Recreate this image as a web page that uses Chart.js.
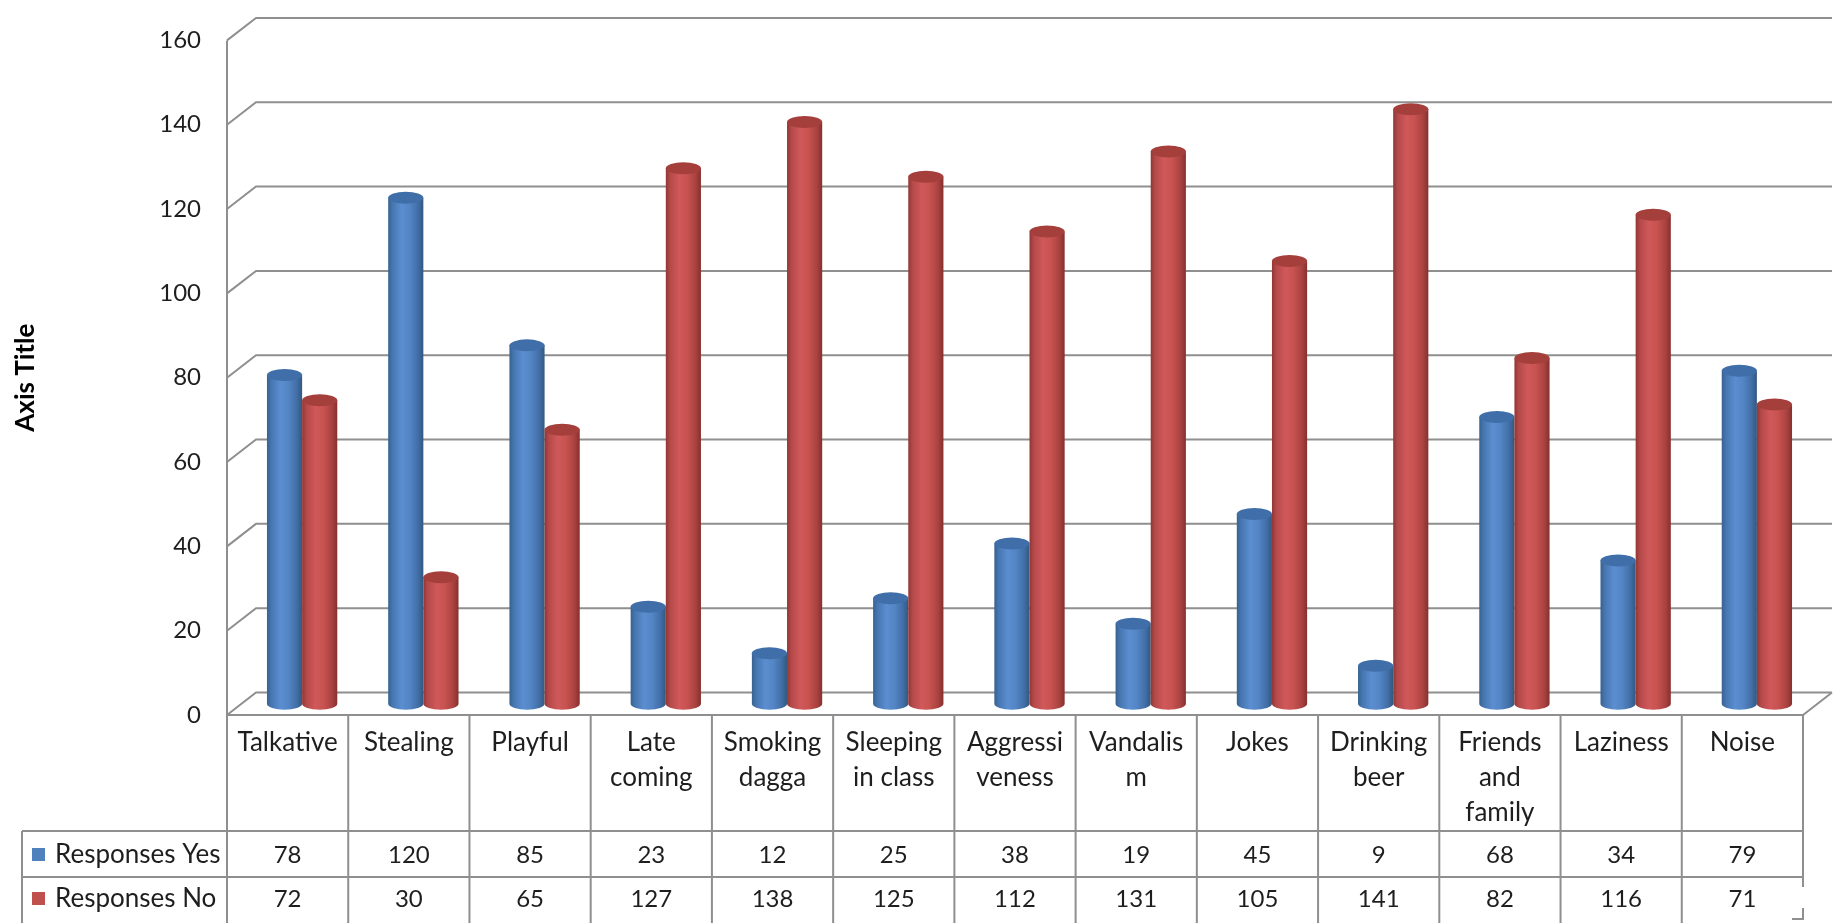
<!DOCTYPE html>
<html>
<head>
<meta charset="utf-8">
<title>Responses</title>
<script src="https://cdn.jsdelivr.net/npm/chart.js@4.4.1/dist/chart.umd.min.js"></script>
<style>
  html, body { margin: 0; padding: 0; background: #fff; }
  canvas { display: block; }
</style>
</head>
<body>
<canvas id="chart" width="1843" height="923"></canvas>
<script>
const categories = [
  ['Talkative'], ['Stealing'], ['Playful'], ['Late', 'coming'], ['Smoking', 'dagga'],
  ['Sleeping', 'in class'], ['Aggressi', 'veness'], ['Vandalis', 'm'], ['Jokes'],
  ['Drinking', 'beer'], ['Friends', 'and', 'family'], ['Laziness'], ['Noise']
];
const responsesYes = [78, 120, 85, 23, 12, 25, 38, 19, 45, 9, 68, 34, 79];
const responsesNo = [72, 30, 65, 127, 138, 125, 112, 131, 105, 141, 82, 116, 71];
const seriesNames = ['Responses Yes', 'Responses No'];
const yMax = 160;
const yStep = 20;

const font = 'Lato, "Open Sans", sans-serif';
const textColor = '#1e1e1e';
const lineColor = '#8f8f8f';
const depth = { dx: 29, dy: -22.5 };

// cylinder shading per series
const shades = [
  { swatch: '#4f81bd', top: '#3f6ea8',
    body: [[0, '#37618f'], [0.12, '#4676b0'], [0.38, '#5b8ed0'], [0.6, '#5486c6'], [0.85, '#416ea6'], [1, '#33587f']] },
  { swatch: '#c0504d', top: '#a43f3c',
    body: [[0, '#913633'], [0.12, '#b4494a'], [0.38, '#d0585a'], [0.6, '#c85350'], [0.85, '#a94240'], [1, '#85302e']] }
];

function drawCylinder(ctx, bar, s) {
  const p = bar.getProps(['x', 'y', 'base', 'width'], true);
  const cx = p.x + depth.dx / 2;
  const rx = p.width / 2, ry = 6;
  const top = p.y + depth.dy / 2, bot = p.base + depth.dy / 2;
  const g = ctx.createLinearGradient(cx - rx, 0, cx + rx, 0);
  s.body.forEach(([o, c]) => g.addColorStop(o, c));
  ctx.fillStyle = g;
  ctx.beginPath();
  ctx.moveTo(cx - rx, top);
  ctx.lineTo(cx - rx, bot);
  ctx.ellipse(cx, bot, rx, ry, 0, Math.PI, 0, true);
  ctx.lineTo(cx + rx, top);
  ctx.closePath();
  ctx.fill();
  ctx.beginPath();
  ctx.ellipse(cx, top, rx, ry, 0, 0, Math.PI * 2);
  ctx.fillStyle = s.top;
  ctx.fill();
}

const wallPlugin = {
  id: 'wall',
  beforeDatasetsDraw(chart) {
    const { ctx, chartArea: a, scales: { y } } = chart;
    ctx.save();
    ctx.strokeStyle = lineColor;
    ctx.lineWidth = 2;
    y.ticks.forEach(t => {
      const py = y.getPixelForValue(t.value);
      ctx.beginPath();
      ctx.moveTo(a.left, py);
      ctx.lineTo(a.left + depth.dx, py + depth.dy);
      ctx.lineTo(a.right + depth.dx, py + depth.dy);
      ctx.stroke();
    });
    ctx.beginPath();
    ctx.moveTo(a.left, a.top);
    ctx.lineTo(a.left, a.bottom);
    ctx.lineTo(a.right, a.bottom);
    ctx.lineTo(a.right + depth.dx, a.bottom + depth.dy);
    ctx.stroke();

    chart.data.datasets.forEach((ds, i) => {
      chart.getDatasetMeta(i).data.forEach(bar => drawCylinder(ctx, bar, shades[i]));
    });
    ctx.restore();
    return false;
  }
};

const tablePlugin = {
  id: 'table',
  afterDraw(chart) {
    const { ctx, chartArea: a, scales: { x } } = chart;
    const colW = (a.right - a.left) / categories.length;
    const top = a.bottom, row1 = 831, row2 = 877, bottom = 923, legendLeft = 22;
    ctx.save();
    ctx.strokeStyle = lineColor;
    ctx.lineWidth = 2;
    ctx.beginPath();
    for (let i = 0; i < categories.length; i++) {
      const lx = a.left + i * colW;
      ctx.moveTo(lx, top); ctx.lineTo(lx, bottom);
    }
    ctx.moveTo(legendLeft, row1); ctx.lineTo(a.right, row1);
    ctx.moveTo(legendLeft, row2); ctx.lineTo(a.right, row2);
    ctx.moveTo(legendLeft, row1); ctx.lineTo(legendLeft, bottom);
    ctx.moveTo(a.right, top); ctx.lineTo(a.right, 887);
    ctx.moveTo(a.right, 908); ctx.lineTo(a.right, 919);
    ctx.lineTo(a.right - 11, 919);
    ctx.stroke();

    ctx.fillStyle = textColor;
    ctx.textAlign = 'center';
    ctx.textBaseline = 'middle';
    categories.forEach((lines, i) => {
      const cx = x.getPixelForValue(i);
      ctx.font = '26px ' + font;
      lines.forEach((ln, k) => ctx.fillText(ln, cx, 743 + k * 35));
      ctx.font = '24px ' + font;
      ctx.fillText(String(responsesYes[i]), cx, 855);
      ctx.fillText(String(responsesNo[i]), cx, 899);
    });

    ctx.textAlign = 'left';
    ctx.font = '26px ' + font;
    [855, 899].forEach((ty, i) => {
      ctx.fillStyle = shades[i].swatch;
      ctx.fillRect(32, ty - 7, 13, 13);
      ctx.fillStyle = textColor;
      ctx.fillText(seriesNames[i], 55, ty);
    });
    ctx.restore();
  }
};

new Chart(document.getElementById('chart'), {
  type: 'bar',
  data: {
    labels: categories,
    datasets: [
      { label: seriesNames[0], data: responsesYes, backgroundColor: shades[0].swatch },
      { label: seriesNames[1], data: responsesNo, backgroundColor: shades[1].swatch }
    ]
  },
  options: {
    responsive: false,
    animation: false,
    devicePixelRatio: 1,
    layout: { padding: { left: 0, top: 35, right: 40, bottom: 208 } },
    datasets: { bar: { categoryPercentage: 0.58, barPercentage: 1 } },
    plugins: { legend: { display: false }, tooltip: { enabled: false } },
    scales: {
      x: { display: false },
      y: {
        min: 0,
        max: yMax,
        ticks: { stepSize: yStep, padding: 26, color: textColor, font: { family: font, size: 24 } },
        grid: { display: false, drawTicks: false },
        border: { display: false },
        title: {
          display: true,
          text: 'Axis Title',
          color: '#000',
          font: { family: font, size: 26, weight: 'bold' },
          padding: { top: 10, bottom: 0 }
        },
        afterFit(scale) { scale.width = 227; }
      }
    }
  },
  plugins: [wallPlugin, tablePlugin]
});
</script>
</body>
</html>
